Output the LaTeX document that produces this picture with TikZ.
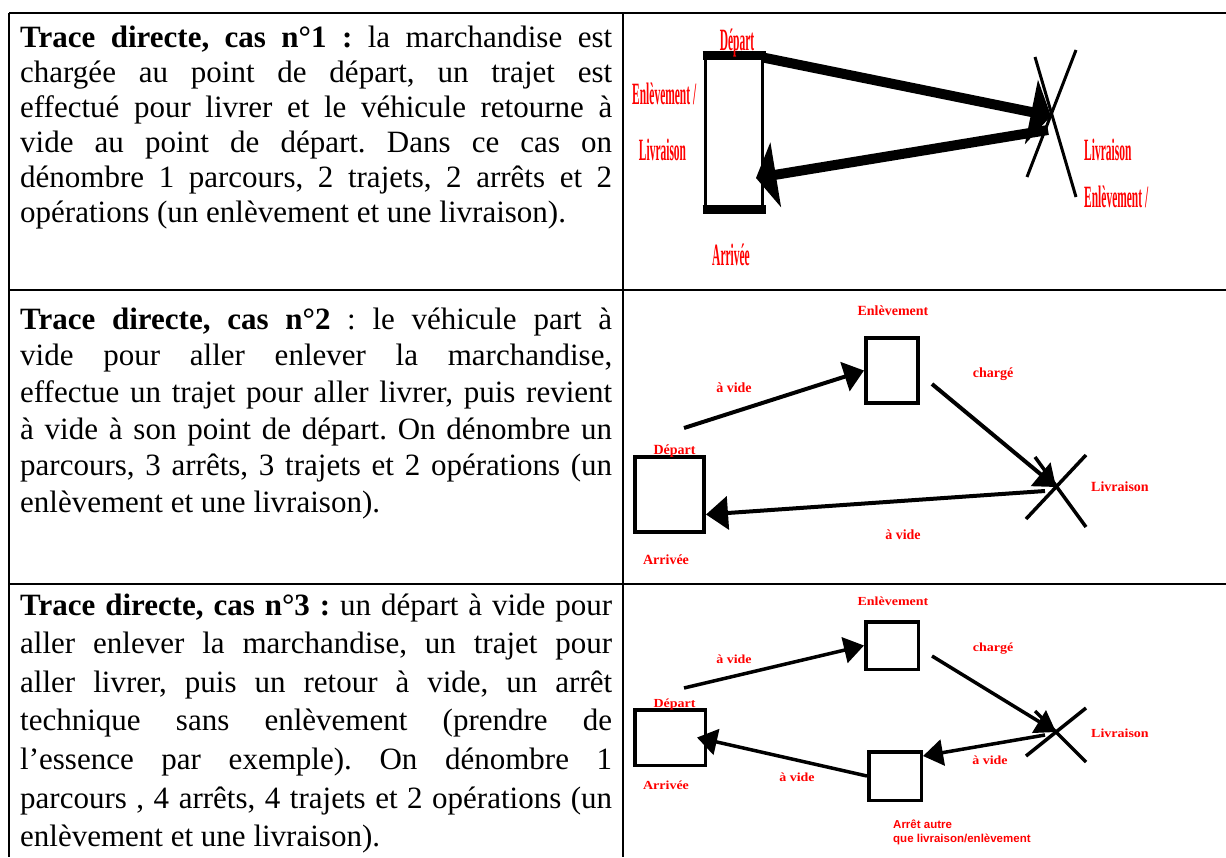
\documentclass[tikz,border=0pt]{standalone}
\usepackage{fontspec}
\setmainfont{Liberation Serif}
\newfontfamily\arialf{Liberation Sans}
\usepackage{graphicx}
\usetikzlibrary{arrows.meta,calc}
\newcommand{\cnd}[1]{\scalebox{0.37}[1]{#1}}
\newcommand{\vsq}[1]{\scalebox{1}[0.88]{#1}}
\frenchspacing
\begin{document}
\begin{tikzpicture}[x=1pt,y=-1pt,
  grid/.style={line width=2.5pt,black},
  body/.style={text width=592pt,align=justify,inner sep=0pt,anchor=base west},
  lblbig/.style={text=red,inner sep=0pt,anchor=base,font=\bfseries\fontsize{31}{34}\selectfont},
  lbl/.style={text=red,inner sep=0pt,anchor=base,font=\bfseries\fontsize{14}{16}\selectfont},
  lbls/.style={text=red,inner sep=0pt,anchor=base west,font=\arialf\bfseries\fontsize{11.5}{13}\selectfont},
  boxw/.style={draw=black,fill=white,inner sep=0pt},
  bigarrow/.style={draw=black,line width=10pt,-{Triangle[length=20pt,width=65pt]}},
  arr/.style={draw=black,line width=4pt,-{Triangle[length=20pt,width=30pt]}},
  arrs/.style={draw=black,line width=3.5pt,-{Triangle[length=20pt,width=26pt]}},
  crossline/.style={draw=black,line width=3.5pt}
]
\useasboundingbox (0,0) rectangle (1226,857);
% table
\draw[grid] (9,13) -- (1226,13);
\draw[grid] (9,290) -- (1226,290);
\draw[grid] (9,584) -- (1226,584);
\draw[grid] (9,13) -- (9,857);
\draw[grid] (623,13) -- (623,857);

% texts
\node[body,font=\fontsize{31}{35}\selectfont] (t1) at (20,47) {\frenchspacing\hyphenpenalty=10000\tolerance=10000\textbf{Trace directe, cas n°1 :} la marchandise est\linebreak chargée au point de départ, un trajet est\linebreak effectué pour livrer et le véhicule retourne à\linebreak vide au point de départ. Dans ce cas on\linebreak dénombre 1 parcours, 2 trajets, 2 arrêts et 2\linebreak opérations (un enlèvement et une livraison).};
\node[body,font=\fontsize{31}{36.7}\selectfont] (t2) at (20,329) {\frenchspacing\hyphenpenalty=10000\tolerance=10000\textbf{Trace directe, cas n°2} : le véhicule part à\linebreak vide pour aller enlever la marchandise,\linebreak effectue un trajet pour aller livrer, puis revient\linebreak à vide à son point de départ. On dénombre un\linebreak parcours, 3 arrêts, 3 trajets et 2 opérations (un\linebreak enlèvement et une livraison).};
\node[body,font=\fontsize{31}{38.6}\selectfont] (t3) at (20,615) {\frenchspacing\hyphenpenalty=10000\tolerance=10000\textbf{Trace directe, cas n°3 :} un départ à vide pour\linebreak aller enlever la marchandise, un trajet pour\linebreak aller livrer, puis un retour à vide, un arrêt\linebreak technique sans enlèvement (prendre de\linebreak l’essence par exemple). On dénombre 1\linebreak parcours , 4 arrêts, 4 trajets et 2 opérations (un\linebreak enlèvement et une livraison).};

% ---------- case 1 ----------
\node[boxw,line width=3pt,minimum width=57pt,minimum height=154pt] (r1) at (734,132) {};
\draw[line width=9pt] ($(r1.north west)+(-1.5,1.5)$) -- ($(r1.north east)+(1.5,1.5)$);
\draw[line width=9pt] ($(r1.south west)+(-1.5,-1.5)$) -- ($(r1.south east)+(1.5,-1.5)$);
\coordinate (x1) at (1051,116);
\draw[crossline,line width=3pt] ($(x1)+(-16,-59)$) -- ($(x1)+(25,81)$);
\draw[crossline,line width=3pt] ($(x1)+(25,-66)$) -- ($(x1)+(-24,61)$);
\draw[bigarrow] ($(r1.north east)+(-1,4)$) -- (x1);
\draw[bigarrow] ($(x1)+(-3,14)$) -- ($(r1.east)+(-8,46)$);
\node[lblbig] (l1a) at (737,50) {\cnd{Départ}};
\node[lblbig,anchor=base west] (l1b) at (632,104) {\cnd{Enlèvement /}};
\node[lblbig] (l1c) at (662.5,160) {\cnd{Livraison}};
\node[lblbig] (l1d) at (731,265) {\cnd{Arrivée}};
\node[lblbig,anchor=base west] (l1e) at (1084,160) {\cnd{Livraison}};
\node[lblbig,anchor=base west] (l1f) at (1084,207) {\cnd{Enlèvement /}};

% ---------- case 2 ----------
\node[boxw,line width=4pt,minimum width=52pt,minimum height=65pt] (e2) at (892,370.5) {};
\node[boxw,line width=4pt,minimum width=69pt,minimum height=75pt] (d2) at (669.5,494.5) {};
\coordinate (x2) at (1056,487);
\coordinate (s2) at (684,428);
\coordinate (c2) at (932,384);
\draw[crossline] ($(x2)+(-21,-30)$) -- ($(x2)+(30,40)$);
\draw[crossline] ($(x2)+(30,-32)$) -- ($(x2)+(-30,32)$);
\draw[arr] (s2) -- (e2.west);
\draw[arr] (c2) -- (x2);
\draw[arr,-{Triangle[length=22pt,width=33pt]}] ($(x2)+(-11,4)$) -- ($(d2.east)+(0,20)$);
\node[lbl] (l2a) at (893,315) {Enlèvement};
\node[lbl] (l2b) at (734,392) {à vide};
\node[lbl] (l2c) at (993,377) {chargé};
\node[lbl,anchor=base west] (l2d) at (1091,491) {Livraison};
\node[lbl] (l2e) at (903,539) {à vide};
\node[lbl] (l2f) at (674.5,454) {Départ};
\node[lbl] (l2g) at (666,564) {Arrivée};

% ---------- case 3 ----------
\node[boxw,line width=3.5pt,minimum width=52.5pt,minimum height=47.5pt] (e3) at (892,645.5) {};
\node[boxw,line width=3.5pt,minimum width=52.5pt,minimum height=48.5pt] (s3) at (895,776) {};
\node[boxw,line width=3.5pt,minimum width=70.5pt,minimum height=55.5pt] (d3) at (670,737.5) {};
\coordinate (x3) at (1056,732);
\coordinate (s3a) at (684,688);
\coordinate (c3) at (932,656);
\draw[crossline] ($(x3)+(-21,-21)$) -- ($(x3)+(30,30)$);
\draw[crossline] ($(x3)+(30,-24)$) -- ($(x3)+(-30,24)$);
\draw[arrs] (s3a) -- (e3.west);
\draw[arrs] (c3) -- (x3);
\draw[arrs] ($(x3)+(-11,3)$) -- ($(s3.east)+(0,-20)$);
\draw[arrs] (s3.west) -- ($(d3.east)+(-10,0)$);
\node[lbl] (l3a) at (893,605) {\vsq{Enlèvement}};
\node[lbl] (l3b) at (734,663) {\vsq{à vide}};
\node[lbl] (l3c) at (993,651) {\vsq{chargé}};
\node[lbl,anchor=base west] (l3d) at (1091,737) {\vsq{Livraison}};
\node[lbl] (l3e) at (990,764) {\vsq{à vide}};
\node[lbl] (l3f) at (797,781) {\vsq{à vide}};
\node[lbl] (l3g) at (674.5,707) {\vsq{Départ}};
\node[lbl] (l3h) at (666,789) {\vsq{Arrivée}};
\node[lbls] (l3i) at (893,828) {Arrêt autre};
\node[lbls] (l3j) at (893,842) {que livraison/enlèvement};
\end{tikzpicture}
\end{document}
